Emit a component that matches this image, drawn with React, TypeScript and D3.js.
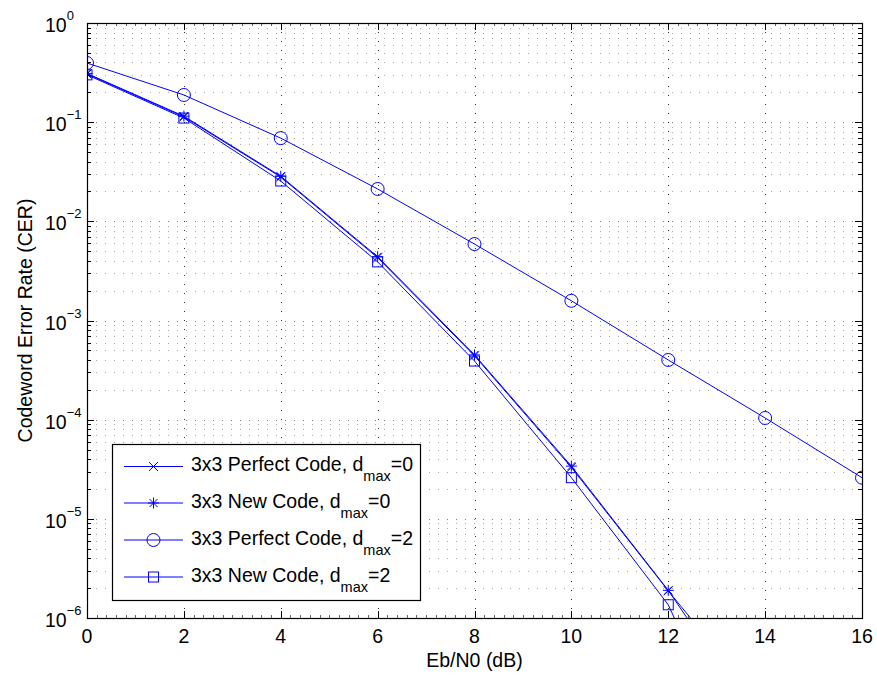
import React from "react";
import * as d3 from "d3";

// Eb/N0 points (dB)
const snr = [0, 2, 4, 6, 8, 10, 12, 14, 16];

// codeword error rates
const perfect0 = [0.306, 0.113, 0.028, 0.0043, 4.4e-4, 3.3e-5, 1.88e-6, 1.2e-7];
const new0 = [0.31, 0.115, 0.0285, 0.0044, 4.5e-4, 3.4e-5, 1.9e-6, 7e-8];
const perfect2 = [0.395, 0.188, 0.069, 0.0212, 0.0059, 0.00158, 4.0e-4, 1.04e-4, 2.6e-5];
const new2 = [0.30, 0.11, 0.0255, 0.0039, 3.9e-4, 2.6e-5, 1.36e-6, 1e-8];

const xTicks = [0, 2, 4, 6, 8, 10, 12, 14, 16];
const yExponents = [0, -1, -2, -3, -4, -5, -6];

const seriesNames = [
  "3x3 Perfect Code, d",
  "3x3 New Code, d",
  "3x3 Perfect Code, d",
  "3x3 New Code, d",
];
const seriesDmax = ["0", "0", "2", "2"];

const BLUE = "#0000ff";
const FONT = "'Liberation Sans', Arial, Helvetica, sans-serif";

function Marker({ kind, x, y }: { kind: string; x: number; y: number }) {
  if (kind === "x") {
    const s = 4.5;
    return (
      <path d={`M${x - s},${y - s}L${x + s},${y + s}M${x - s},${y + s}L${x + s},${y - s}`} stroke={BLUE} fill="none" />
    );
  }
  if (kind === "star") {
    const s = 5.5;
    const d = 4;
    return (
      <path
        d={`M${x - s},${y}L${x + s},${y}M${x},${y - s}L${x},${y + s}M${x - d},${y - d}L${x + d},${y + d}M${x - d},${y + d}L${x + d},${y - d}`}
        stroke={BLUE}
        fill="none"
      />
    );
  }
  if (kind === "circle") {
    return <circle cx={x} cy={y} r={6.5} stroke={BLUE} fill="none" />;
  }
  return <rect x={x - 5} y={y - 5} width={10} height={10} stroke={BLUE} fill="none" />;
}

export default function App() {
  const width = 877;
  const height = 677;
  const margin = { top: 23, right: 15, bottom: 59, left: 87 };

  const x = d3.scaleLinear().domain([0, 16]).range([margin.left, width - margin.right]);
  const y = d3.scaleLog().domain([1e-6, 1]).range([height - margin.bottom, margin.top]);

  const [x0, x1] = x.range();
  const [y1, y0] = y.range();

  const series = [
    { values: perfect0, marker: "x" },
    { values: new0, marker: "star" },
    { values: perfect2, marker: "circle" },
    { values: new2, marker: "square" },
  ];

  const line = d3
    .line<number>()
    .x((_, i) => x(snr[i]))
    .y((d) => y(d));

  // minor y values 2..9 x 10^k
  const minorY: number[] = [];
  for (let e = -6; e < 0; e++) {
    for (let m = 2; m <= 9; m++) minorY.push(m * Math.pow(10, e));
  }
  const minorX = d3.range(0, 16.001, 0.2).filter((v) => Math.abs(v / 2 - Math.round(v / 2)) > 1e-6);

  const leg = { x: 112, y: 444, w: 308, h: 156 };
  const rowY = [466.5, 503, 540, 577];

  const py = (v: number) => Math.round(y(v)) + 0.5;
  const px = (v: number) => Math.round(x(v)) + 0.5;

  return (
    <svg width={width} height={height} style={{ display: "block", position: "absolute", left: 0, top: 0 }} fontFamily={FONT}>
      <rect width={width} height={height} fill="#fff" />
      <defs>
        <clipPath id="plot">
          <rect x={x0} y={y0} width={x1 - x0} height={y1 - y0} />
        </clipPath>
      </defs>

      {/* grid */}
      <g stroke="#000" strokeDasharray="1,8" strokeWidth={1}>
        {minorY.map((v, i) => (
          <line key={"gm" + i} x1={x0} x2={x1} y1={py(v)} y2={py(v)} opacity={0.35} />
        ))}
        {yExponents.slice(1, -1).map((e) => (
          <line key={"gy" + e} x1={x0} x2={x1} y1={py(Math.pow(10, e))} y2={py(Math.pow(10, e))} opacity={0.5} />
        ))}
        {xTicks.slice(1, -1).map((t) => (
          <line key={"gx" + t} x1={px(t)} x2={px(t)} y1={y0} y2={y1} opacity={0.8} />
        ))}
      </g>

      {/* data */}
      <g clipPath="url(#plot)">
        {series.map((s, i) => (
          <path key={"l" + i} d={line(s.values) || ""} fill="none" stroke={BLUE} strokeWidth={1} />
        ))}
        {series.map((s, i) =>
          s.values
            .filter((v) => v >= 1e-6)
            .map((v, j) => <Marker key={"m" + i + "-" + j} kind={s.marker} x={x(snr[j])} y={y(v)} />)
        )}
      </g>

      {/* axes box and ticks */}
      <g stroke="#000" fill="none">
        <rect x={x0 + 0.5} y={y0 + 0.5} width={x1 - x0} height={y1 - y0} strokeWidth={1.2} />
        {xTicks.map((t) => (
          <g key={"xt" + t}>
            <line x1={px(t)} x2={px(t)} y1={y1} y2={y1 - 7} />
            <line x1={px(t)} x2={px(t)} y1={y0} y2={y0 + 7} />
          </g>
        ))}
        {minorX.map((t, i) => (
          <g key={"xm" + i}>
            <line x1={px(t)} x2={px(t)} y1={y1} y2={y1 - 3} strokeWidth={0.6} />
            <line x1={px(t)} x2={px(t)} y1={y0} y2={y0 + 3} strokeWidth={0.6} />
          </g>
        ))}
        {yExponents.map((e) => (
          <g key={"yt" + e}>
            <line x1={x0} x2={x0 + 7} y1={py(Math.pow(10, e))} y2={py(Math.pow(10, e))} />
            <line x1={x1} x2={x1 - 7} y1={py(Math.pow(10, e))} y2={py(Math.pow(10, e))} />
          </g>
        ))}
        {minorY.map((v, i) => (
          <g key={"ym" + i}>
            <line x1={x0} x2={x0 + 4} y1={py(v)} y2={py(v)} />
            <line x1={x1} x2={x1 - 4} y1={py(v)} y2={py(v)} />
          </g>
        ))}
      </g>

      {/* tick labels */}
      <g fontSize={19.5} fill="#000">
        {xTicks.map((t) => (
          <text key={"xl" + t} x={x(t)} y={643} textAnchor="middle">
            {t}
          </text>
        ))}
        {yExponents.map((e) => (
          <text key={"yl" + e} x={45} y={y(Math.pow(10, e)) + 9}>
            10
            <tspan fontSize={13} dy={-12}>
              {e === 0 ? "0" : "\u2212" + Math.abs(e)}
            </tspan>
          </text>
        ))}
      </g>

      {/* axis labels */}
      <text x={(x0 + x1) / 2} y={667} textAnchor="middle" fontSize={19.5}>
        Eb/N0 (dB)
      </text>
      <text transform={`translate(32,${(y0 + y1) / 2}) rotate(-90)`} textAnchor="middle" fontSize={19.5}>
        Codeword Error Rate (CER)
      </text>

      {/* legend */}
      <g>
        <rect x={leg.x + 0.5} y={leg.y + 0.5} width={leg.w} height={leg.h} fill="#fff" stroke="#000" strokeWidth={1.2} />
        {series.map((s, i) => (
          <g key={"lg" + i}>
            <line x1={124} x2={183} y1={rowY[i]} y2={rowY[i]} stroke={BLUE} />
            <Marker kind={s.marker} x={153.5} y={rowY[i]} />
            <text x={191} y={rowY[i] + 4.5} fontSize={19.5}>
              {seriesNames[i]}
              <tspan fontSize={14.5} dy={10}>
                max
              </tspan>
              <tspan dy={-10}>={seriesDmax[i]}</tspan>
            </text>
          </g>
        ))}
      </g>
    </svg>
  );
}
